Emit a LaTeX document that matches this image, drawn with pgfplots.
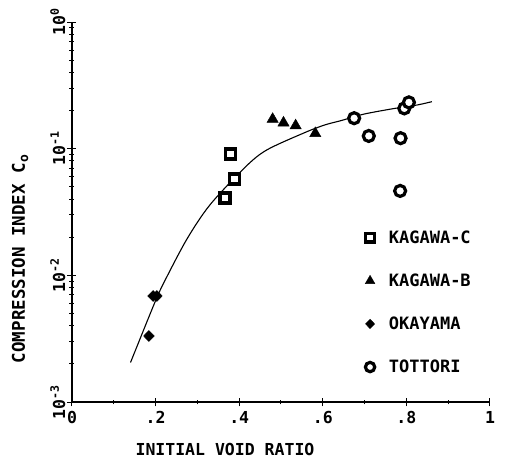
\documentclass[border=0pt]{standalone}
\usepackage{pgfplots}
\pgfplotsset{compat=1.18}
\usepackage{fontspec}
\setmainfont{DejaVu Sans Mono}
\newcommand\lbl{\fontsize{16.5}{19}\selectfont\bfseries}
\begin{document}
\begin{tikzpicture}
\path[use as bounding box] (-72pt,-67pt) rectangle (435pt,402pt);
\begin{axis}[
  scale only axis, width=418pt, height=380pt,
  ymode=log, xmin=0, xmax=1, ymin=1e-3, ymax=1,
  axis x line*=bottom, axis y line*=left,
  axis line style={line width=1.4pt},
  tick style={line width=1pt, black},
  major tick length=9pt, minor tick length=5pt,
  tick align=center,
  xtick={0,0.2,0.4,0.6,0.8,1}, xticklabels={0,.2,.4,.6,.8,1},
  minor xtick={0.1,0.3,0.5,0.7,0.9},
  ytick={1e-3,1e-2,1e-1,1},
  yticklabels={10\textsuperscript{-3},10\textsuperscript{-2},10\textsuperscript{-1},10\textsuperscript{0}},
  minor ytick={2e-3,3e-3,4e-3,5e-3,6e-3,7e-3,8e-3,9e-3,2e-2,3e-2,4e-2,5e-2,6e-2,7e-2,8e-2,9e-2,2e-1,3e-1,4e-1,5e-1,6e-1,7e-1,8e-1,9e-1},
  yticklabel style={rotate=90, anchor=south, font=\lbl, inner sep=2pt},
  xticklabel style={font=\lbl, yshift=-1pt},
  xlabel={INITIAL VOID RATIO},
  xlabel style={font=\lbl, at={(axis description cs:0.366,-0.126)}, anchor=center},
  ylabel={COMPRESSION INDEX C\raisebox{-0.35ex}{\fontsize{13}{13}\selectfont o}},
  ylabel style={font=\fontsize{17.5}{19}\selectfont\bfseries, at={(axis description cs:-0.124,0.376)}, anchor=center},
  legend style={draw=none, fill=none, at={(0.694,0.462)}, anchor=north west,
    font=\fontsize{17}{19}\selectfont\bfseries, row sep=25pt,
    /tikz/every odd column/.append style={column sep=12pt}},
  legend cell align=left,
  legend image post style={scale=0.85},
]
\addplot[smooth, line width=1.1pt, forget plot] coordinates {
 (0.140,0.00205) (0.194,0.00566) (0.217,0.00839) (0.274,0.0191) (0.330,0.0360)
 (0.414,0.0713) (0.466,0.0977) (0.557,0.134) (0.605,0.154) (0.645,0.167)
 (0.697,0.187) (0.765,0.206) (0.825,0.221) (0.861,0.235)};
\addplot[only marks, mark=square*, mark size=5pt, mark options={fill=white, draw=black, line width=3.2pt}]
 coordinates {(0.366,0.0408) (0.388,0.0577) (0.380,0.0908)};
\addlegendentry{KAGAWA-C}
\addplot[only marks, mark=triangle*, mark size=6.5pt, mark options={fill=black, draw=black}]
 coordinates {(0.480,0.171) (0.506,0.160) (0.535,0.152) (0.582,0.132)};
\addlegendentry{KAGAWA-B}
\addplot[only marks, mark=diamond*, mark size=5.5pt, mark options={fill=black, draw=black, xscale=1.3}]
 coordinates {(0.194,0.00687) (0.203,0.00687) (0.184,0.00332)};
\addlegendentry{OKAYAMA}
\addplot[only marks, mark=*, mark size=5.5pt, mark options={fill=white, draw=black, line width=3.2pt}]
 coordinates {(0.675,0.174) (0.710,0.126) (0.795,0.208) (0.806,0.232) (0.786,0.121) (0.785,0.0464)};
\addlegendentry{TOTTORI}
\end{axis}
\end{tikzpicture}
\end{document}
